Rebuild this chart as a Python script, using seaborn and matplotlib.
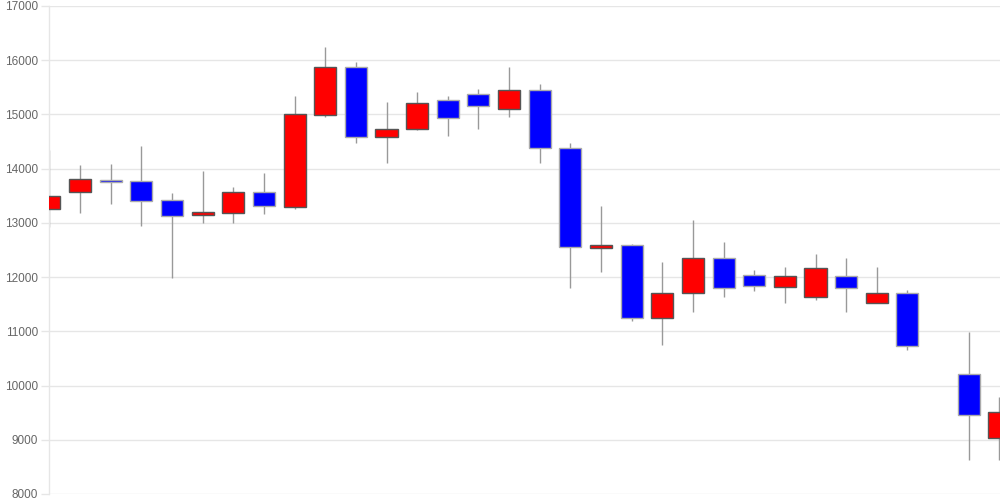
import numpy as np
import seaborn as sns
from matplotlib import pyplot as plt

# daily OHLC values (slot 29 has no candle)
opens = [13262, 13570, 13800, 13773, 13428, 13140, 13177, 13564, 13287, 14995,
         15869, 14578, 14726, 15261, 15371, 15095, 15451, 14381, 12543, 12592,
         11251, 11701, 12352, 12033, 11823, 11627, 12015, 11517, 11701, np.nan,
         10213, 9033]
highs = [14344, 14073, 14086, 14418, 13551, 13963, 13656, 13920, 15335, 16238,
         15973, 15229, 15414, 15335, 15469, 15881, 15556, 14468, 13311, 12604,
         12279, 13053, 12647, 12125, 12193, 12426, 12347, 12193, 11762, np.nan,
         10993, 9789]
lows = [12930, 13188, 13354, 12948, 11983, 13004, 13004, 13158, 13250, 14958,
        14479, 14104, 14720, 14608, 14737, 14953, 14104, 11805, 12100, 11196,
        10748, 11362, 11633, 11749, 11528, 11572, 11362, 11517, 10650, np.nan,
        8633, 8633]
closes = [13490, 13809, 13760, 13398, 13121, 13201, 13564, 13306, 15003, 15869,
          14578, 14731, 15211, 14929, 15161, 15451, 14381, 12550, 12592, 11251,
          11701, 12352, 11799, 11830, 12015, 12174, 11805, 11701, 10729, np.nan,
          9451, 9512]
y_ticks = [8000, 9000, 10000, 11000, 12000, 13000, 14000, 15000, 16000, 17000]

sns.set_theme(style="whitegrid")
plt.rcParams["font.family"] = ["Liberation Sans", "DejaVu Sans"]

o = np.array(opens, dtype=float)
h = np.array(highs, dtype=float)
l = np.array(lows, dtype=float)
c = np.array(closes, dtype=float)
x = np.arange(len(o))
up = c >= o
down = c < o

fig = plt.figure(figsize=(10, 5), dpi=100)
ax = fig.add_axes([0.0485, 0.012, 0.9515, 0.976])

# wicks
ax.vlines(x, l, h, color="#999999", linewidth=1, zorder=2)
# bodies
ax.bar(x[up], (c - o)[up], bottom=o[up], width=0.72, color="#ff0000",
       edgecolor="#555555", linewidth=1, zorder=3)
ax.bar(x[down], (o - c)[down], bottom=c[down], width=0.72, color="#0000ff",
       edgecolor="#aaaaaa", linewidth=1, zorder=3)

ax.set_xlim(-0.03, 31.02)
ax.set_ylim(8000, 17000)
ax.set_yticks(y_ticks)
ax.set_xticks([])
ax.grid(axis="y", color="#e6e6e6", linewidth=1)
ax.grid(axis="x", visible=False)
ax.tick_params(axis="y", length=6, width=1, color="#e6e6e6", pad=1.5,
               labelsize=8.5, labelcolor="#666666", left=True)
for side in ["top", "right", "bottom"]:
    ax.spines[side].set_visible(False)
ax.spines["left"].set_color("#e6e6e6")
ax.spines["left"].set_linewidth(1)
ax.set_facecolor("white")

fig.savefig("out.png", dpi=100, facecolor="white")
